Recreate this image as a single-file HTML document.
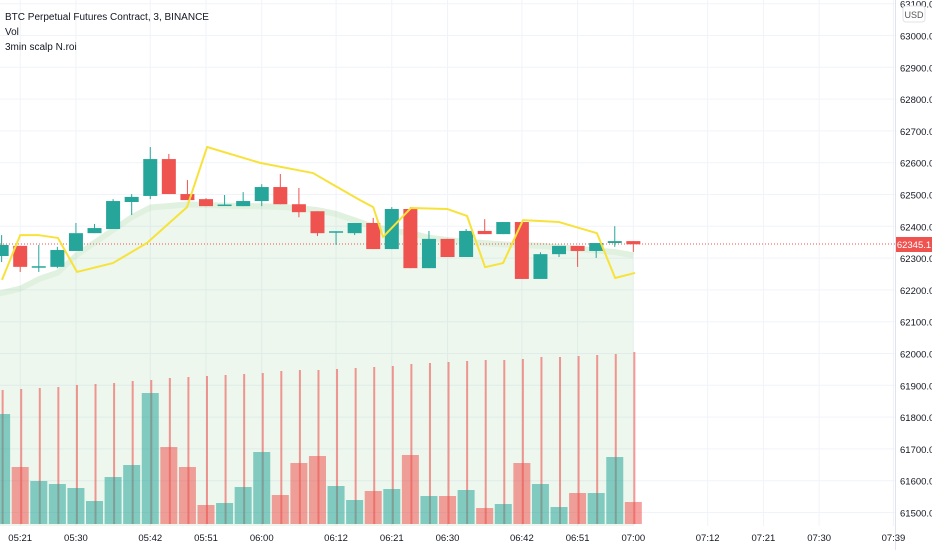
<!DOCTYPE html>
<html><head><meta charset="utf-8"><style>
html,body{margin:0;padding:0;background:#fff;}
svg{display:block;font-family:"Liberation Sans",sans-serif;}
</style></head><body>
<svg id="chart" width="932" height="550">
<g id="grid"></g>
<g id="fill"></g>
<g id="vlines"></g>
<g id="vol"></g>
<line x1="0" x2="895" y1="244" y2="244" stroke="#ef5350" stroke-width="1" stroke-dasharray="1,2"/>
<g id="candles"></g>
<g id="yellow"></g>
<line x1="895.5" x2="895.5" y1="0" y2="550" stroke="#e0e3eb"/>
<g id="yaxis"></g>
<g id="xaxis"></g>
<rect x="903" y="6" width="22" height="16" rx="3" fill="#fff" stroke="#e0e3eb"/>
<text x="914" y="18" font-size="9" fill="#555" text-anchor="middle">USD</text>
<rect x="896" y="237" width="36" height="15" fill="#ef5350"/>
<text x="914" y="248" font-size="9.5" fill="#fff" text-anchor="middle">62345.1</text>
<text x="5" y="20" font-size="10" fill="#131722">BTC Perpetual Futures Contract, 3, BINANCE</text>
<text x="5" y="35" font-size="10" fill="#131722">Vol</text>
<text x="5" y="50" font-size="10" fill="#131722">3min scalp N.roi</text>
</svg>
<script>
const opens  =[62308,62340,62272,62274,62324,62380,62393,62478,62497,62613,62503,62487,62467,62465,62481,62525,62471,62449,62383,62380,62412,62330,62456,62270,62362,62305,62387,62377,62415,62236,62314,62340,62324,62349,62355];
const closes =[62343,62274,62276,62327,62380,62396,62481,62494,62613,62503,62484,62465,62470,62481,62525,62471,62446,62380,62386,62412,62330,62456,62270,62362,62305,62387,62377,62415,62236,62314,62340,62324,62349,62355,62345];
const highs  =[62374,62340,62343,62337,62412,62409,62487,62503,62651,62629,62547,62490,62500,62509,62534,62566,62522,62449,62386,62412,62428,62462,62462,62387,62362,62393,62424,62415,62415,62320,62340,62340,62349,62402,62355];
const lows   =[62289,62258,62258,62270,62380,62380,62393,62437,62487,62503,62484,62465,62467,62465,62465,62471,62430,62371,62343,62374,62330,62330,62270,62270,62305,62305,62377,62377,62236,62236,62305,62274,62302,62337,62321];
const volumes=[110,57,43,40,36,23,47,59,131,77,57,19,21,37,72,29,61,68,38,24,33,35,69,28,28,34,16,20,61,40,17,31,31,67,22];
const lineVals=[134,135,136,137,139,140,141,143,144,146,147,148,149,150,151,153,154,154,155,156,157,158,160,161,162,163,164,164,165,167,167,168,169,170,172];
const bandVals=[62200,62215,62245,62265,62320,62360,62400,62440,62470,62475,62480,62478,62476,62475,62474,62472,62468,62462,62450,62430,62410,62398,62390,62375,62368,62362,62358,62354,62352,62350,62345,62340,62335,62330,62320];
const yellowIdx=[-0.98,0,0.96,2.03,3.06,4.99,6.82,8.98,10.06,12.91,15.76,16.67,18.29,19,19.53,21.03,22.97,24.05,25.02,25.99,27.06,29,31.04,32.02,33.09];
const yellowVal=[62233,62374,62374,62365,62258,62286,62349,62462,62651,62601,62569,62538,62484,62462,62368,62459,62456,62434,62273,62286,62421,62415,62380,62239,62255];
const priceTicks=[63100,63000,62900,62800,62700,62600,62500,62400,62300,62200,62100,62000,61900,61800,61700,61600,61500];
const timeLabels=["05:21","05:30","05:42","05:51","06:00","06:12","06:21","06:30","06:42","06:51","07:00","07:12","07:21","07:30","07:39"];
const timeIdx=[0,3,7,10,13,17,20,23,27,30,33,37,40,43,47];

const NS="http://www.w3.org/2000/svg";
const X=i=>20.2+i*18.58;
const Y=p=>36+(63000-p)*0.318;
const VB=524, VS=1;
const VY=v=>VB-v*VS;
const LY=v=>VB-v;
function mk(tag,attrs,parent){const e=document.createElementNS(NS,tag);for(const k in attrs)e.setAttribute(k,attrs[k]);parent.appendChild(e);return e;}
const g=id=>document.getElementById(id);

priceTicks.forEach(p=>{
  const y=Y(p);
  const l=mk('line',{x1:0,x2:895,y1:y-0.5,y2:y-0.5,stroke:'#f0f3fa'},g('grid'));
  
  
  const t=mk('text',{x:900,y:y+3.5,'font-size':9.5,fill:'#131722'},g('yaxis'));
  t.textContent=p.toFixed(1);
  
  
});
timeLabels.forEach((s,k)=>{
  const x=X(timeIdx[k]);
  const l=mk('line',{x1:x,x2:x,y1:0,y2:526,stroke:'#f0f3fa'},g('grid'));
  
  
  const t=mk('text',{x:x,y:541,'font-size':9.5,fill:'#131722','text-anchor':'middle'},g('xaxis'));
  t.textContent=s;
  
  
});

const n=opens.length;
let d='M'+(X(-1)-2)+','+526;
bandVals.forEach((v,k)=>{d+=' L'+(k==0?X(-1)-2:X(k-1))+','+Y(v);});
d+=' L'+X(n-2)+',526 Z';
const band=mk('path',{d:d,fill:'rgba(76,175,80,0.1)'},g('fill'));


let d2='';
bandVals.forEach((v,k)=>{d2+=(k?' L':'M')+(k==0?X(-1)-2:X(k-1))+','+(Y(v)+3);});
const bandEdge=mk('path',{d:d2,fill:'none',stroke:'rgba(76,175,80,0.08)','stroke-width':6},g('fill'));



lineVals.forEach((v,k)=>{
  const x=X(k-1)+1;
  const l=mk('line',{x1:x,x2:x,y1:LY(v),y2:VB,stroke:'rgba(239,83,80,0.6)','stroke-width':2},g('vlines'));
  
  
});

volumes.forEach((v,k)=>{
  const up=closes[k]>=opens[k];
  const x=X(k-1);
  const r=mk('rect',{x:x-8.5,y:VY(v),width:17,height:v*VS,fill:up?'rgba(38,166,154,0.55)':'rgba(239,83,80,0.55)'},g('vol'));
  
  
});

opens.forEach((o,k)=>{
  const c=closes[k],up=c>=o,col=up?'#26a69a':'#ef5350',x=X(k-1);
  const w=mk('line',{x1:x,x2:x,y1:Y(highs[k]),y2:Y(lows[k]),stroke:col,'stroke-width':1},g('candles'));
  
  
  const top=Y(Math.max(o,c)),h=Math.max(1.5,Math.abs(Y(o)-Y(c)));
  const b=mk('rect',{x:x-7,y:top,width:14,height:h,fill:col},g('candles'));
  
  
});

let yd='';
yellowIdx.forEach((ix,k)=>{yd+=(k?' L':'M')+X(ix)+','+Y(yellowVal[k]);});
const yl=mk('path',{d:yd,fill:'none',stroke:'#f7e23a','stroke-width':2,'stroke-linejoin':'round'},g('yellow'));


</script>
</body></html>
